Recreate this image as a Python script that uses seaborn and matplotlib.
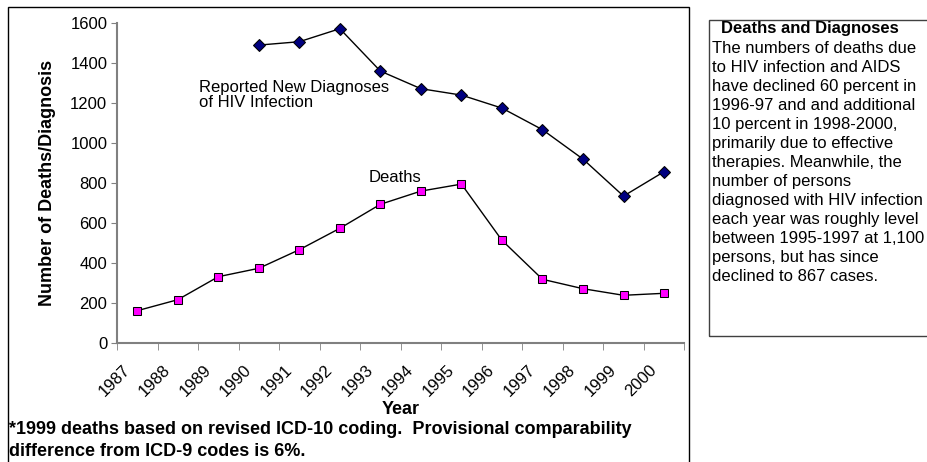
import numpy as np
import pandas as pd
import seaborn as sns
import matplotlib.pyplot as plt
from matplotlib.patches import Rectangle
from matplotlib.transforms import ScaledTranslation

# Data
years = [1987, 1988, 1989, 1990, 1991, 1992, 1993, 1994, 1995, 1996, 1997, 1998, 1999, 2000]
deaths = [160, 215, 330, 372, 465, 572, 692, 758, 793, 512, 317, 270, 237, 247]
diagnoses = [None, None, None, 1488, 1505, 1570, 1358, 1270, 1238, 1173, 1065, 918, 733, 855]

df = pd.DataFrame({"year": years, "deaths": deaths, "diagnoses": diagnoses})
df_diag = df.dropna(subset=["diagnoses"])

sns.set_style("white")
plt.rcParams["font.family"] = ["Liberation Sans", "DejaVu Sans"]
plt.rcParams["text.color"] = "black"
plt.rcParams["axes.labelcolor"] = "black"
plt.rcParams["xtick.color"] = "black"
plt.rcParams["ytick.color"] = "black"

fig = plt.figure(figsize=(9.27, 4.62), dpi=100)
ax = fig.add_axes([117 / 927, 1 - 342.7 / 462, (684.3 - 117) / 927, 320 / 462])

sns.lineplot(data=df_diag, x="year", y="diagnoses", ax=ax, color="black", lw=1,
             marker="D", markersize=6, markerfacecolor="#000080", markeredgecolor="black")
sns.lineplot(data=df, x="year", y="deaths", ax=ax, color="black", lw=1,
             marker="s", markersize=6, markerfacecolor="#FF00FF", markeredgecolor="black")

ax.set_xlim(years[0] - 0.5, years[-1] + 0.5)
ax.set_ylim(0, 1600)
ax.set_yticks(range(0, 1601, 200))
ax.tick_params(axis="y", labelsize=12, length=4, color="#808080", labelcolor="black",
               direction="out", left=True, pad=3)

# category labels at centres, tick marks at boundaries
ax.set_xticks(years)
ax.set_xticklabels([str(y) for y in years], rotation=45, ha="right", rotation_mode="anchor", fontsize=12)
ax.tick_params(axis="x", length=0, pad=14, labelcolor="black")
shift = ScaledTranslation(-15 / 100, 0, fig.dpi_scale_trans)
for lbl in ax.get_xticklabels():
    lbl.set_transform(lbl.get_transform() + shift)
ax.set_xticks(np.arange(years[0] - 0.5, years[-1] + 0.6, 1), minor=True)
ax.tick_params(axis="x", which="minor", length=5, color="#808080", direction="out", bottom=True)

for s in ["top", "right"]:
    ax.spines[s].set_visible(False)
for s in ["left", "bottom"]:
    ax.spines[s].set_color("#808080")
    ax.spines[s].set_linewidth(1.5)

ax.set_xlabel("")
ax.set_ylabel("Number of Deaths/Diagnosis", fontsize=13, fontweight="bold", labelpad=10)

ax.text(1988.52, 1240, "Reported New Diagnoses\nof HIV Infection", fontsize=12, va="center", ha="left",
        linespacing=1.0)
ax.text(1992.72, 828, "Deaths", fontsize=12, va="center", ha="left")

fig.text(401 / 927, 1 - 410 / 462, "Year", fontsize=13, fontweight="bold", ha="center", va="center")
fig.text(9 / 927, 1 - 429 / 462, "*1999 deaths based on revised ICD-10 coding.  Provisional comparability",
         fontsize=13, fontweight="bold", ha="left", va="center")
fig.text(9 / 927, 1 - 451 / 462, "difference from ICD-9 codes is 6%.",
         fontsize=13, fontweight="bold", ha="left", va="center")

# chart frame
fig.patches.append(Rectangle((8 / 927, -0.02), (689 - 8) / 927, 1.02 - 7 / 462, transform=fig.transFigure,
                             fill=False, edgecolor="black", lw=1))
# side text box
fig.patches.append(Rectangle((709 / 927, 1 - 336 / 462), 0.3, (336 - 20) / 462, transform=fig.transFigure,
                             fill=False, edgecolor="#404040", lw=1))
fig.text(810 / 927, 1 - 29 / 462, "Deaths and Diagnoses", fontsize=12, fontweight="bold", ha="center", va="center")
box_lines = [
    "The numbers of deaths due",
    "to HIV infection and AIDS",
    "have declined 60 percent in",
    "1996-97 and and additional",
    "10 percent in 1998-2000,",
    "primarily due to effective",
    "therapies. Meanwhile, the",
    "number of persons",
    "diagnosed with HIV infection",
    "each year was roughly level",
    "between 1995-1997 at 1,100",
    "persons, but has since",
    "declined to 867 cases.",
]
for i, line in enumerate(box_lines):
    fig.text(712 / 927, 1 - (48.5 + i * 19) / 462, line, fontsize=12, ha="left", va="center")

plt.savefig("out.png", dpi=100)
